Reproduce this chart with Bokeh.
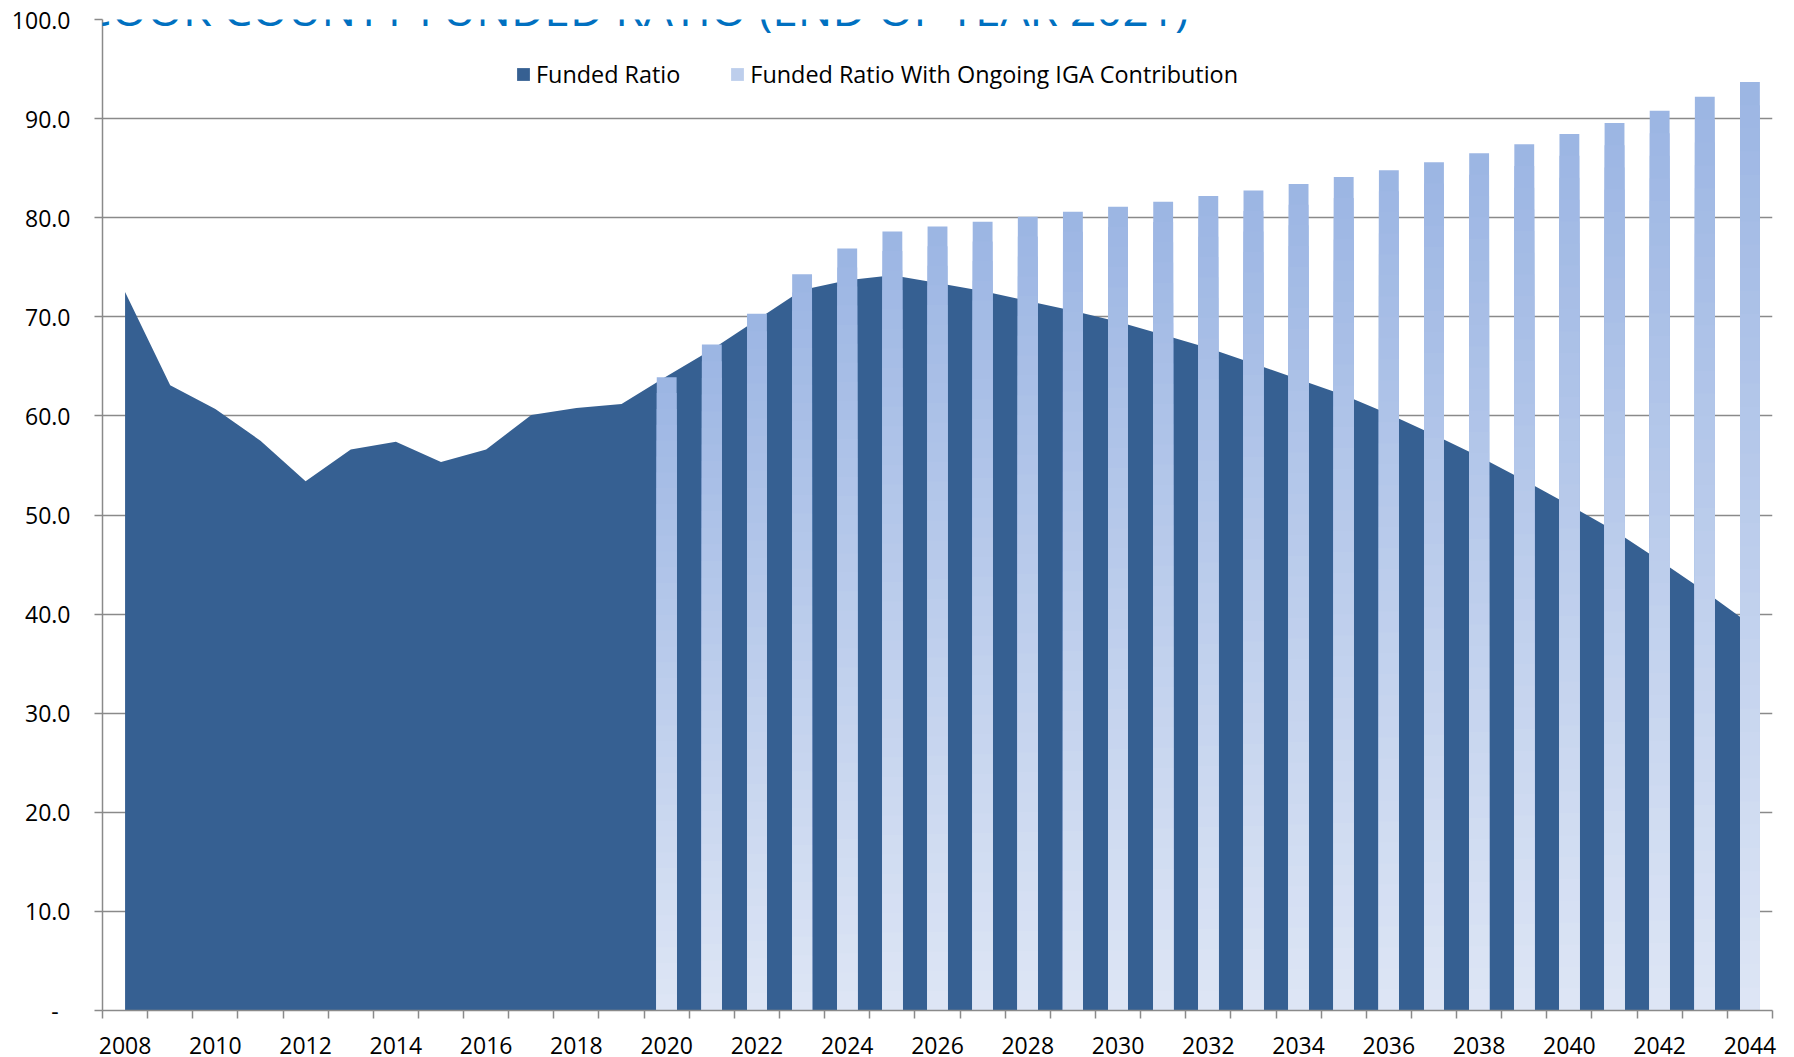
from bokeh.plotting import figure
from bokeh.models import (Range1d, FixedTicker, Legend, LegendItem, Label,
                          ColumnDataSource, NumeralTickFormatter)
from bokeh.embed import file_html
from bokeh.resources import INLINE

# ---------------- data ----------------
years = list(range(2008, 2045))
funded_ratio = [72.5, 63.1, 60.7, 57.5, 53.4, 56.6, 57.4, 55.35, 56.6, 60.1,
                60.8, 61.2, 64.0, 66.7, 69.7, 72.7, 73.7, 74.2, 73.4, 72.6,
                71.6, 70.6, 69.5, 68.2, 66.85, 65.3, 63.7, 62.1, 60.2, 58.1,
                55.9, 53.5, 51.0, 48.4, 45.4, 42.3, 39.0]

iga_years = list(range(2020, 2045))
iga_ratio = [63.9, 67.2, 70.3, 74.3, 76.9, 78.6, 79.1, 79.6, 80.1, 80.6,
             81.1, 81.6, 82.2, 82.75, 83.4, 84.1, 84.8, 85.6, 86.5, 87.4,
             88.45, 89.55, 90.8, 92.2, 93.7]

x_label_years = list(range(2008, 2045, 2))
y_ticks = [0, 10, 20, 30, 40, 50, 60, 70, 80, 90, 100]
title_text = "COOK COUNTY FUNDED RATIO (END OF YEAR 2021)"
series_names = ["Funded Ratio", "Funded Ratio With Ongoing IGA Contribution"]

# ---------------- styles ----------------
FONT = "Open Sans"
AREA_COLOR = "#366092"
BAR_TOP = (0x9B, 0xB5, 0xE3)
BAR_BOTTOM = (0xDE, 0xE6, 0xF5)
GRID = "#8a8a8a"
N_SLICES = 40

p = figure(width=1794, height=1063, output_backend="svg", toolbar_location=None,
           x_range=Range1d(min(years) - 0.5, max(years) + 0.5),
           y_range=Range1d(0, 100),
           min_border_left=102, min_border_right=22, min_border_top=19,
           min_border_bottom=53)
p.styles = {"margin-bottom": "-6px"}
p.outline_line_color = None
p.background_fill_color = "white"
p.border_fill_color = "white"

# area series
area_src = ColumnDataSource(dict(x=years, y=funded_ratio))
area_r = p.varea(x="x", y1=0, y2="y", source=area_src, fill_color=AREA_COLOR)

# gradient bars: nested slices from full height down, colour from top to bottom
def lerp(a, b, t):
    return "#%02x%02x%02x" % tuple(int(round(a[i] + (b[i] - a[i]) * t)) for i in range(3))

bx, btop, bcol = [], [], []
for yr, v in zip(iga_years, iga_ratio):
    for k in range(N_SLICES):
        frac = (N_SLICES - k) / N_SLICES
        bx.append(yr)
        btop.append(v * frac)
        bcol.append(lerp(BAR_TOP, BAR_BOTTOM, (k + 0.5) / N_SLICES))
bar_src = ColumnDataSource(dict(x=bx, top=btop, color=bcol))
bar_r = p.vbar(x="x", bottom=0, top="top", width=0.44, source=bar_src,
               fill_color="color", line_color=None)

# axes
xa = p.xaxis[0]
xa.ticker = FixedTicker(ticks=x_label_years,
                        minor_ticks=[y - 0.5 for y in years] + [max(years) + 0.5])
xa.formatter = NumeralTickFormatter(format="0")
xa.major_tick_out = 0
xa.major_tick_in = 0
xa.minor_tick_out = 8
xa.minor_tick_in = 0
xa.minor_tick_line_color = GRID
xa.minor_tick_line_width = 1.5
xa.axis_line_color = GRID
xa.axis_line_width = 1.5
xa.major_label_text_font = FONT
xa.major_label_text_font_size = "23px"
xa.major_label_text_color = "#000000"
xa.major_label_standoff = 18

ya = p.yaxis[0]
ya.ticker = FixedTicker(ticks=y_ticks, minor_ticks=[])
ya.formatter = NumeralTickFormatter(format="0.0")
ya.major_label_overrides = {0: "-\u00a0\u00a0"}
ya.major_tick_out = 8
ya.major_tick_in = 0
ya.major_tick_line_color = GRID
ya.major_tick_line_width = 1.5
ya.minor_tick_line_color = None
ya.axis_line_color = GRID
ya.axis_line_width = 1.5
ya.major_label_text_font = FONT
ya.major_label_text_font_size = "23px"
ya.major_label_text_color = "#000000"
ya.major_label_standoff = 24

p.xgrid.grid_line_color = None
p.ygrid.grid_line_color = GRID
p.ygrid.grid_line_width = 1.5

# legend
legend = Legend(items=[LegendItem(label=series_names[0], renderers=[area_r]),
                       LegendItem(label=series_names[1], renderers=[bar_r],
                                  index=N_SLICES // 2)],
                orientation="horizontal", location=(413, 920),
                padding=0, margin=0, spacing=49,
                glyph_width=16, glyph_height=16, label_standoff=5,
                border_line_color=None, background_fill_alpha=0,
                label_text_font=FONT, label_text_font_size="23.4px",
                label_text_color="#000000")
p.add_layout(legend)

# title (partially cut by top edge, as in the reference)
title = Label(x=min(years) - 0.5 - 20 / 45.14, y=101.2, text=title_text,
              text_font=FONT, text_font_size="46px", text_color="#0070C0",
              text_baseline="alphabetic", text_align="left")
p.add_layout(title)

open("out.html", "w").write(file_html(p, INLINE))
